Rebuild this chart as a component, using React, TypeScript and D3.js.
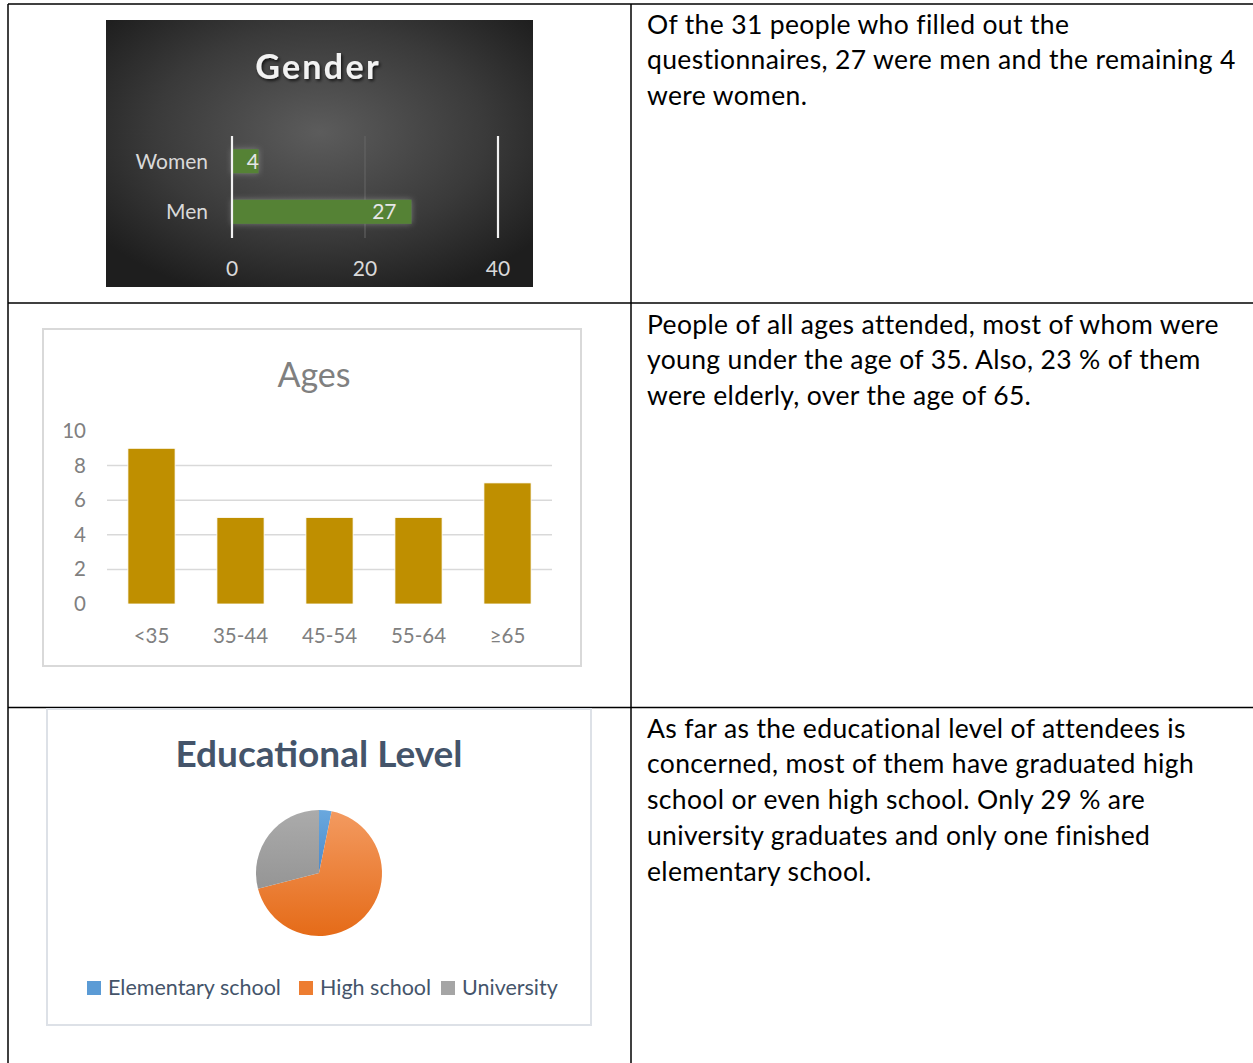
import React from "react";
import * as d3 from "d3";

const genderCategories = ["Women", "Men"];
const genderValues = [4, 27];
const genderTicks = [0, 20, 40];

const ageCategories = ["<35", "35-44", "45-54", "55-64", "≥65"];
const ageValues = [9, 5, 5, 5, 7];
const ageTicks = [0, 2, 4, 6, 8, 10];

const eduCategories = ["Elementary school", "High school", "University"];
const eduValues = [1, 21, 9];
const eduColors = ["#5b9bd5", "#ed7d31", "#a5a5a5"];
const eduLight = ["#6aa8de", "#f39a60", "#ababab"];
const eduDark = ["#4a8acb", "#e56b18", "#959595"];

const row1Text = [
  "Of the 31 people who filled out the",
  "questionnaires, 27 were men and the remaining 4",
  "were women.",
];
const row2Text = [
  "People of all ages attended, most of whom were",
  "young under the age of 35. Also, 23 % of them",
  "were elderly, over the age of 65.",
];
const row3Text = [
  "As far as the educational level of attendees is",
  "concerned, most of them have graduated high",
  "school or even high school. Only 29 % are",
  "university graduates and only one finished",
  "elementary school.",
];

const FONT = "Lato, 'Open Sans', sans-serif";

function Gender() {
  const x = d3.scaleLinear().domain([0, 40]).range([232, 498]);
  const y = d3
    .scaleBand<string>()
    .domain(genderCategories)
    .range([136, 237])
    .paddingInner(0.52)
    .paddingOuter(0.26);
  return (
    <g>
      <rect x={106} y={20} width={427} height={267} fill="url(#gbg)" />
      <text
        x={318}
        y={79}
        textAnchor="middle"
        fontFamily={FONT}
        fontWeight="bold"
        fontSize={34}
        letterSpacing={2.3}
        fill="#f2f2f2"
        filter="url(#tshadow)"
      >
        Gender
      </text>
      <line x1={x(20)} x2={x(20)} y1={136} y2={238} stroke="#666" strokeWidth={1} />
      {genderCategories.map((c, i) => (
        <g key={c}>
          <rect
            x={x(0)}
            y={y(c)!}
            width={x(genderValues[i]) - x(0)}
            height={y.bandwidth()}
            fill="#548235"
            filter="url(#glow)"
          />
          <text
            x={Math.max(x(genderValues[i]) - 15, x(0) + 27)}
            y={y(c)! + y.bandwidth() / 2 + 7.5}
            textAnchor="end"
            fontFamily={FONT}
            fontSize={21}
            fill="#e6e6e6"
          >
            {genderValues[i]}
          </text>
          <text
            x={208}
            y={y(c)! + y.bandwidth() / 2 + 7.5}
            textAnchor="end"
            fontFamily={FONT}
            fontSize={21}
            fill="#d9d9d9"
          >
            {c}
          </text>
        </g>
      ))}
      {[0, 40].map((t) => (
        <line key={t} x1={x(t)} x2={x(t)} y1={136} y2={238} stroke="#f2f2f2" strokeWidth={2.2} />
      ))}
      {genderTicks.map((t) => (
        <text
          key={t}
          x={x(t)}
          y={276}
          textAnchor="middle"
          fontFamily={FONT}
          fontSize={21}
          fill="#d9d9d9"
        >
          {t}
        </text>
      ))}
    </g>
  );
}

function Ages() {
  const x = d3
    .scaleBand<string>()
    .domain(ageCategories)
    .range([107, 552])
    .paddingInner(0.47)
    .paddingOuter(0.235);
  const xs = d3.scaleBand<string>().domain(ageCategories).range([107, 552]);
  const y = d3.scaleLinear().domain([0, 10]).range([604, 431]);
  return (
    <g>
      <rect x={43} y={329} width={538} height={337} fill="#fff" stroke="#d9d9d9" strokeWidth={2} />
      <text x={314} y={387} textAnchor="middle" fontFamily={FONT} fontSize={34} fill="#808080">
        Ages
      </text>
      {ageTicks.map((t) => (
        <g key={t}>
          {t > 0 && t < 10 && (
            <line x1={107} x2={552} y1={y(t)} y2={y(t)} stroke="#d9d9d9" strokeWidth={1.5} />
          )}
          <text
            x={86}
            y={y(t) + 7}
            textAnchor="end"
            fontFamily={FONT}
            fontSize={20.5}
            fill="#808080"
          >
            {t}
          </text>
        </g>
      ))}
      {ageCategories.map((c, i) => (
        <g key={c}>
          <rect
            x={x(c)!}
            y={y(ageValues[i])}
            width={x.bandwidth()}
            height={y(0) - y(ageValues[i])}
            fill="#bf8f00"
            stroke="#fff"
            strokeWidth={0.8}
          />
          <text
            x={xs(c)! + xs.bandwidth() / 2}
            y={643}
            textAnchor="middle"
            fontFamily={FONT}
            fontSize={20.5}
            fill="#808080"
          >
            {c}
          </text>
        </g>
      ))}
    </g>
  );
}

function Education() {
  const pie = d3.pie<number>().sort(null).value((d) => d);
  const arcs = pie(eduValues);
  const arc = d3.arc<d3.PieArcDatum<number>>().innerRadius(0).outerRadius(63);
  const cx = 319;
  const cy = 873;
  const legendX = [87, 299, 441];
  return (
    <g>
      <rect x={47} y={709} width={544} height={316} fill="#fff" stroke="#dde1e7" strokeWidth={2} />
      <text
        x={319}
        y={767}
        textAnchor="middle"
        fontFamily={FONT}
        fontWeight="bold"
        fontSize={37}
        fill="#44546a"
      >
        Educational Level
      </text>
      <g transform={`translate(${cx},${cy})`}>
        {arcs.map((a, i) => (
          <path key={i} d={arc(a)!} fill={`url(#eg${i})`} />
        ))}
      </g>
      {eduCategories.map((c, i) => (
        <g key={c}>
          <rect x={legendX[i]} y={981} width={14} height={14} fill={eduColors[i]} />
          <text
            x={legendX[i] + 21}
            y={995}
            fontFamily={FONT}
            fontSize={21.5}
            fill="#44546a"
          >
            {c}
          </text>
        </g>
      ))}
    </g>
  );
}

function TextBlock({ lines, top }: { lines: string[]; top: number }) {
  return (
    <g>
      {lines.map((l, i) => (
        <text
          key={i}
          x={647}
          y={top + i * 35.9}
          fontFamily={FONT}
          fontSize={26.5}
          letterSpacing={0.35}
          fill="#000"
        >
          {l}
        </text>
      ))}
    </g>
  );
}

export default function App() {
  return (
    <svg
      width={1253}
      height={1063}
      style={{ position: "absolute", left: 0, top: 0, background: "#fff" }}
    >
      <defs>
        <radialGradient id="gbg" cx="50%" cy="42%" r="65%">
          <stop offset="0%" stopColor="#5c5c5c" />
          <stop offset="60%" stopColor="#3a3a3a" />
          <stop offset="100%" stopColor="#1e1e1e" />
        </radialGradient>
        <filter id="tshadow" x="-20%" y="-30%" width="140%" height="170%">
          <feDropShadow dx={1.5} dy={2} stdDeviation={1.5} floodColor="#000" floodOpacity={0.7} />
        </filter>
        <filter id="glow" x="-20%" y="-60%" width="140%" height="220%">
          <feGaussianBlur in="SourceAlpha" stdDeviation={3} result="b" />
          <feFlood floodColor="#a0a0a0" floodOpacity={0.6} />
          <feComposite in2="b" operator="in" result="g" />
          <feMerge>
            <feMergeNode in="g" />
            <feMergeNode in="SourceGraphic" />
          </feMerge>
        </filter>
        {eduColors.map((c, i) => (
          <linearGradient key={c} id={`eg${i}`} x1="0" y1="0" x2="0" y2="1">
            <stop offset="0%" stopColor={eduLight[i]} />
            <stop offset="100%" stopColor={eduDark[i]} />
          </linearGradient>
        ))}
      </defs>
      {/* table grid */}
      <g stroke="#000" strokeWidth={1.5}>
        <line x1={8} x2={1253} y1={4} y2={4} />
        <line x1={8} x2={8} y1={4} y2={1063} />
        <line x1={631} x2={631} y1={4} y2={1063} />
        <line x1={8} x2={1253} y1={303} y2={303} />
        <line x1={8} x2={1253} y1={707.5} y2={707.5} />
      </g>
      <Gender />
      <Ages />
      <Education />
      <TextBlock lines={row1Text} top={33.5} />
      <TextBlock lines={row2Text} top={333.5} />
      <TextBlock lines={row3Text} top={737.5} />
    </svg>
  );
}
